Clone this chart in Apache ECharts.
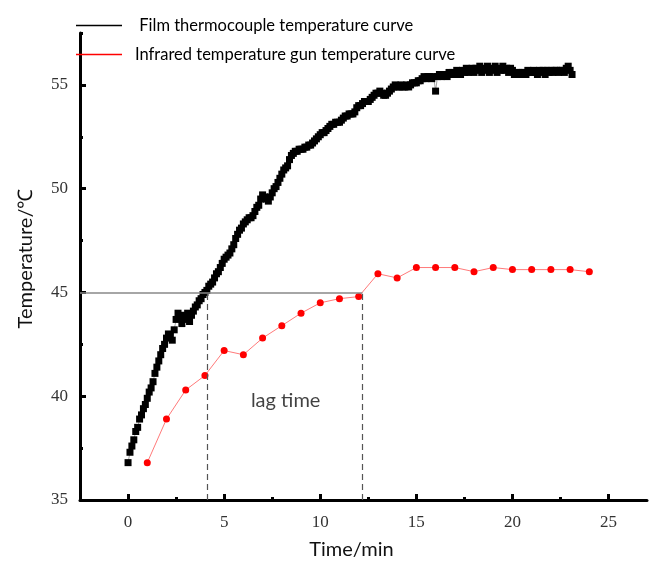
<!DOCTYPE html>
<html>
<head>
<meta charset="utf-8">
<script src="https://cdn.jsdelivr.net/npm/echarts@6/dist/echarts.min.js"></script>
<style>
  html, body { margin: 0; padding: 0; background: #fff; }
  #chart { width: 649px; height: 565px; }
</style>
</head>
<body>
<div id="chart"></div>
<script>
// film thermocouple: one reading every 0.1 min, starting at t = 0
var filmStep = 0.1;
var filmTemp = [
  36.8, 37.3, 37.6, 37.9, 38.3, 38.5, 38.9, 39.1, 39.4, 39.6,
  39.9, 40.2, 40.4, 40.7, 41.1, 41.4, 41.7, 42.0, 42.3, 42.5,
  42.8, 43.0, 42.9, 42.7, 43.2, 43.7, 44.0, 43.8, 43.5, 43.9,
  43.7, 44.0, 43.6, 43.9, 44.1, 44.3, 44.4, 44.6, 44.7, 44.9,
  45.0, 45.1, 45.3, 45.4, 45.5, 45.7, 45.9, 46.0, 46.2, 46.4,
  46.6, 46.7, 46.8, 46.9, 47.1, 47.3, 47.6, 47.8, 48.0, 48.1,
  48.3, 48.4, 48.5, 48.6, 48.6, 48.7, 48.9, 49.1, 49.2, 49.5,
  49.7, 49.6, 49.5, 49.4, 49.6, 49.8, 50.0, 50.1, 50.3, 50.5,
  50.7, 50.9, 51.0, 51.1, 51.4, 51.6, 51.7, 51.8, 51.8, 51.9,
  51.9, 51.9, 52.0, 52.0, 52.1, 52.1, 52.2, 52.3, 52.4, 52.5,
  52.6, 52.7, 52.7, 52.8, 52.9, 53.0, 53.1, 53.1, 53.2, 53.2,
  53.2, 53.3, 53.4, 53.5, 53.5, 53.6, 53.6, 53.6, 53.7, 53.9,
  54.0, 54.0, 54.1, 54.2, 54.2, 54.2, 54.3, 54.4, 54.5, 54.6,
  54.6, 54.7, 54.6, 54.5, 54.5, 54.6, 54.7, 54.8, 54.9, 55.0,
  54.9, 54.9, 55.0, 54.9, 54.9, 55.0, 54.9, 55.0, 55.1, 55.1,
  55.1, 55.2, 55.2, 55.3, 55.4, 55.3, 55.4, 55.4, 55.3, 55.4,
  54.7, 55.4, 55.5, 55.4, 55.5, 55.5, 55.4, 55.6, 55.5, 55.6,
  55.5, 55.7, 55.6, 55.5, 55.7, 55.6, 55.8, 55.6, 55.7, 55.8,
  55.6, 55.8, 55.7, 55.9, 55.6, 55.8, 55.7, 55.9, 55.6, 55.8,
  55.7, 55.9, 55.6, 55.8, 55.7, 55.9, 55.7, 55.8, 55.6, 55.8,
  55.7, 55.5, 55.6, 55.6, 55.5, 55.6, 55.6, 55.5, 55.7, 55.6,
  55.6, 55.7, 55.6, 55.5, 55.7, 55.6, 55.7, 55.5, 55.7, 55.6,
  55.7, 55.6, 55.7, 55.7, 55.6, 55.7, 55.7, 55.6, 55.8, 55.9,
  55.7, 55.5
];

// infrared gun: one reading per minute
var gunTime = [1, 2, 3, 4, 5, 6, 7, 8, 9, 10, 11, 12, 13, 14, 15, 16, 17, 18, 19, 20, 21, 22, 23, 24];
var gunTemp = [36.8, 38.9, 40.3, 41.0, 42.2, 42.0, 42.8, 43.4, 44.0, 44.5, 44.7, 44.8,
               45.9, 45.7, 46.2, 46.2, 46.2, 46.0, 46.2, 46.1, 46.1, 46.1, 46.1, 46.0];

// lag annotation
var refTemp = 45;
var lagFrom = 4.1;
var lagTo = 12.2;
var lagLabelPos = [8.2, 39.8];

// ticks
var xMajor = [0, 5, 10, 15, 20, 25];
var xMinor = [2.5, 7.5, 12.5, 17.5, 22.5];
var yMajor = [35, 40, 45, 50, 55];
var yMinor = [37.5, 42.5, 47.5, 52.5, 57.5];

var xMin = -2.5, xMax = 27, yMin = 35, yMax = 57.5;

var filmData = [];
for (var i = 0; i < filmTemp.length; i++) {
  filmData.push([+(i * filmStep).toFixed(1), filmTemp[i]]);
}
var gunData = [];
for (var j = 0; j < gunTime.length; j++) {
  gunData.push([gunTime[j], gunTemp[j]]);
}

var tickFont = { fontFamily: 'Liberation Serif', fontSize: 17, color: '#333' };

function mainAxis(ticks, labelMargin) {
  return {
    axisLine: { show: true, onZero: false, lineStyle: { color: '#000', width: 3 } },
    axisTick: { show: true, inside: true, length: 6, customValues: ticks, lineStyle: { color: '#000', width: 3 } },
    axisLabel: Object.assign({ customValues: ticks, margin: labelMargin }, tickFont),
    splitLine: { show: false }
  };
}
function minorAxis(ticks) {
  return {
    axisLine: { show: false, onZero: false },
    axisTick: { show: true, inside: true, length: 3, customValues: ticks, lineStyle: { color: '#000', width: 3 } },
    axisLabel: { show: false },
    splitLine: { show: false }
  };
}

var chart = echarts.init(document.getElementById('chart'));
var option = {
  animation: false,
  backgroundColor: '#fff',
  grid: { left: 80, right: 2, top: 33, bottom: 64 },
  legend: {
    data: [' Film thermocouple temperature curve', 'Infrared temperature gun temperature curve'],
    orient: 'vertical',
    left: 76,
    top: 17,
    padding: 0,
    icon: 'rect',
    itemWidth: 46,
    itemHeight: 1.5,
    itemGap: 12,
    textStyle: { fontFamily: 'Lato', fontSize: 16.5, color: '#000', padding: [0, 0, 0, 8] }
  },
  xAxis: [
    Object.assign({
      type: 'value', min: xMin, max: xMax, position: 'bottom',
      name: 'Time/min', nameLocation: 'middle', nameGap: 40,
      nameTextStyle: { fontFamily: 'Lato', fontSize: 20, color: '#111', padding: [0, 24, 0, 0] }
    }, mainAxis(xMajor, 14)),
    Object.assign({ type: 'value', min: xMin, max: xMax, position: 'bottom', gridIndex: 0 }, minorAxis(xMinor))
  ],
  yAxis: [
    Object.assign({
      type: 'value', min: yMin, max: yMax, position: 'left',
      name: 'Temperature/℃', nameLocation: 'middle', nameGap: 44, nameRotate: 90,
      nameTextStyle: { fontFamily: 'Lato', fontSize: 20, color: '#111', padding: [0, 0, 0, 16] }
    }, mainAxis(yMajor, 12)),
    Object.assign({ type: 'value', min: yMin, max: yMax, position: 'left', gridIndex: 0 }, minorAxis(yMinor))
  ],
  series: [
    {
      name: ' Film thermocouple temperature curve',
      type: 'line',
      data: filmData,
      symbol: 'rect',
      symbolSize: 7,
      showAllSymbol: true,
      itemStyle: { color: '#000' },
      lineStyle: { color: '#666', width: 0.6 },
      z: 3
    },
    {
      name: 'Infrared temperature gun temperature curve',
      type: 'line',
      data: gunData,
      symbol: 'circle',
      symbolSize: 7,
      itemStyle: { color: '#ff0000' },
      lineStyle: { color: '#ff7a7a', width: 1 },
      z: 4
    },
    {
      name: 'lag',
      type: 'scatter',
      data: [lagLabelPos],
      symbolSize: 0,
      silent: true,
      label: {
        show: true, position: 'inside', formatter: 'lag time',
        fontFamily: 'Lato', fontSize: 20, color: '#111'
      },
      markLine: {
        silent: true,
        symbol: 'none',
        label: { show: false },
        data: [
          [{ coord: [xMin, refTemp], lineStyle: { color: '#888', width: 1.5, type: 'solid' } }, { coord: [lagTo, refTemp] }],
          [{ coord: [lagFrom, yMin], lineStyle: { color: '#555', width: 1.2, type: [6, 4] } }, { coord: [lagFrom, refTemp] }],
          [{ coord: [lagTo, yMin], lineStyle: { color: '#555', width: 1.2, type: [6, 4] } }, { coord: [lagTo, refTemp] }]
        ]
      },
      z: 2
    }
  ]
};
chart.setOption(option);
</script>
</body>
</html>
